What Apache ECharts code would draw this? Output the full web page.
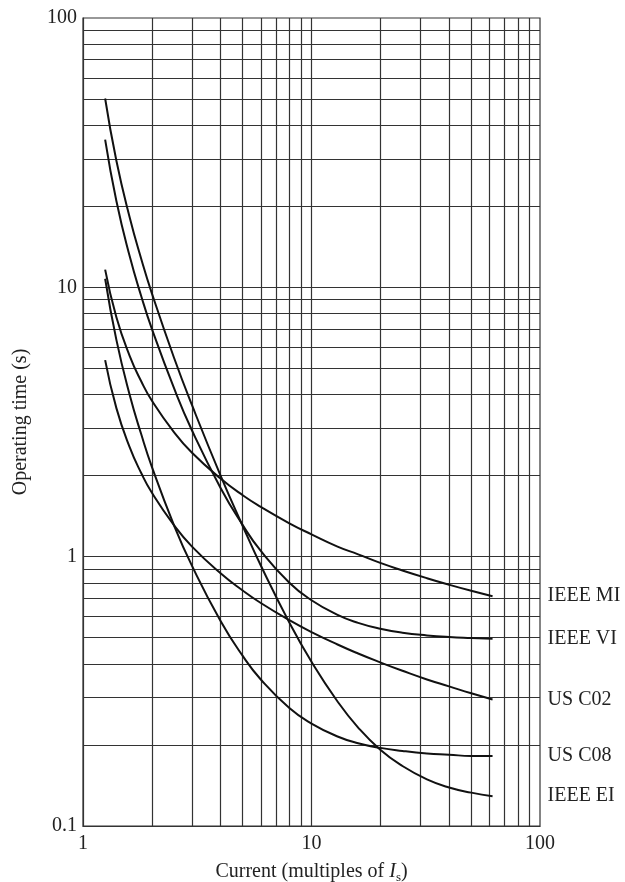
<!DOCTYPE html>
<html>
<head>
<meta charset="utf-8">
<script src="https://cdn.jsdelivr.net/npm/echarts@6/dist/echarts.min.js"></script>
<style>
  html, body { margin: 0; padding: 0; background: #fff; }
  #chart { width: 625px; height: 882px; }
</style>
</head>
<body>
<div id="chart"></div>
<script>
// current, multiples of Is
const current = [1.25, 1.4, 1.6, 1.8, 2, 2.5, 3, 4, 5, 6, 8, 10, 13, 16, 20, 25, 32, 40, 50, 62];

// operating times (s)
const ieeeMI = [11.63, 7.74, 5.57, 4.47, 3.80, 2.90, 2.43, 1.95, 1.69, 1.53, 1.33, 1.21, 1.09, 1.02, 0.948, 0.889, 0.832, 0.787, 0.747, 0.713];
const ieeeVI = [35.35, 20.92, 13.06, 9.25, 7.03, 4.23, 2.94, 1.80, 1.31, 1.05, 0.80, 0.689, 0.608, 0.568, 0.540, 0.522, 0.510, 0.503, 0.499, 0.496];
const usC02 = [5.37, 3.56, 2.55, 2.04, 1.73, 1.31, 1.09, 0.868, 0.749, 0.673, 0.581, 0.525, 0.472, 0.437, 0.405, 0.377, 0.350, 0.330, 0.311, 0.295];
const usC08 = [10.76, 6.38, 3.99, 2.84, 2.16, 1.31, 0.924, 0.577, 0.428, 0.350, 0.274, 0.240, 0.215, 0.203, 0.195, 0.190, 0.186, 0.184, 0.182, 0.182];
const ieeeEI = [50.25, 29.50, 18.20, 12.71, 9.52, 5.49, 3.65, 2.00, 1.30, 0.927, 0.569, 0.407, 0.290, 0.232, 0.192, 0.167, 0.149, 0.139, 0.133, 0.129];

// grid lines
const xGrid = [2, 3, 4, 5, 6, 7, 8, 9, 10, 20, 30, 40, 50, 60, 70, 80, 90];
const yGrid = [0.2, 0.3, 0.4, 0.5, 0.6, 0.7, 0.8, 0.9, 1, 2, 3, 4, 5, 6, 7, 8, 9, 10, 20, 30, 40, 50, 60, 70, 80, 90];

const curves = [
  { name: 'IEEE MI', data: ieeeMI },
  { name: 'IEEE VI', data: ieeeVI },
  { name: 'US C02', data: usC02 },
  { name: 'US C08', data: usC08 },
  { name: 'IEEE EI', data: ieeeEI }
];

const FONT = '"Liberation Serif", "Times New Roman", serif';
const INK = '#222';

const chart = echarts.init(document.getElementById('chart'));

const gridLines = xGrid.map(v => ({ xAxis: v })).concat(yGrid.map(v => ({ yAxis: v })));

const series = curves.map((c, i) => ({
  name: c.name,
  type: 'line',
  data: current.map((x, k) => [x, c.data[k]]),
  smooth: true,
  showSymbol: false,
  symbol: 'none',
  lineStyle: { color: '#111', width: 2 },
  z: 3,
  endLabel: {
    show: true,
    formatter: '{a}',
    distance: 55,
    color: INK,
    fontSize: 20,
    fontFamily: FONT
  },
  markLine: i === 0 ? {
    silent: true,
    symbol: ['none', 'none'],
    label: { show: false },
    lineStyle: { color: '#333', width: 1.2, type: 'solid' },
    data: gridLines,
    z: 1
  } : undefined
}));

const option = {
  animation: false,
  grid: {
    left: 83, top: 18, right: 85, bottom: 56,
    outerBoundsMode: 'none',
    containLabel: false,
    show: true, borderColor: '#333', borderWidth: 1.2
  },
  xAxis: {
    type: 'log',
    logBase: 10,
    min: 1,
    max: 100,
    name: '{t|Current (multiples of }{i|I}{s|s}{t|)}',
    nameLocation: 'middle',
    nameGap: 34,
    nameTextStyle: {
      color: INK, fontSize: 20, fontFamily: FONT,
      rich: {
        t: { color: INK, fontSize: 20, fontFamily: FONT, lineHeight: 24, verticalAlign: 'middle' },
        i: { color: INK, fontSize: 20, fontFamily: FONT, fontStyle: 'italic', lineHeight: 24, verticalAlign: 'middle' },
        s: { color: INK, fontSize: 13, fontFamily: FONT, lineHeight: 13, verticalAlign: 'bottom' }
      }
    },
    axisLine: { show: true, lineStyle: { color: '#333', width: 1.2 } },
    axisTick: { show: false },
    splitLine: { show: false },
    axisLabel: { color: INK, fontSize: 20, fontFamily: FONT, margin: 8 }
  },
  yAxis: {
    type: 'log',
    logBase: 10,
    min: 0.1,
    max: 100,
    name: 'Operating time (s)',
    nameLocation: 'middle',
    nameRotate: 90,
    nameGap: 52,
    nameTextStyle: { color: INK, fontSize: 20, fontFamily: FONT },
    axisLine: { show: true, lineStyle: { color: '#333', width: 1.2 } },
    axisTick: { show: false },
    splitLine: { show: false },
    axisLabel: { color: INK, fontSize: 20, fontFamily: FONT, margin: 6 }
  },
  series: series
};

chart.setOption(option);
</script>
</body>
</html>
